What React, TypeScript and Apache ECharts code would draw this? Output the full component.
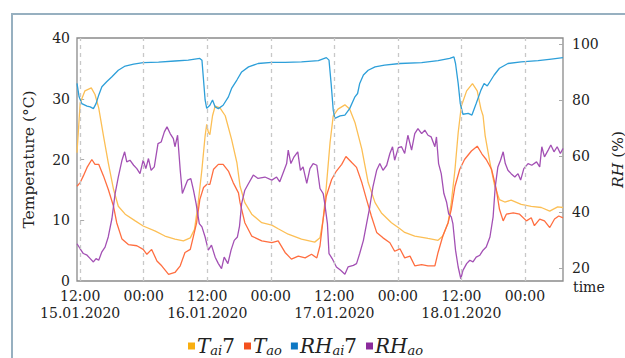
import React, { useEffect, useRef } from 'react';
import * as echarts from 'echarts';

// hours since 12:00 15.01.2020
const xTickValues = [0, 12, 24, 36, 48, 60, 72, 84];
const xTickLabels = ['12:00\n15.01.2020', '00:00', '12:00\n16.01.2020', '00:00', '12:00\n17.01.2020', '00:00', '12:00\n18.01.2020', '00:00'];
const rhTicks = [20, 40, 60, 80, 100];

const seriesNames = ['Tai7', 'Tao', 'RHai7', 'RHao'];
const legendLabels: Record<string, string> = {
  Tai7: '{i|T}{s|ai}{n|7}',
  Tao: '{i|T}{s|ao}',
  RHai7: '{i|RH}{s|ai}{n|7}',
  RHao: '{i|RH}{s|ao}',
};

const taiData: [number, number][] = [
  [-0.6, 21.1], [0, 29.3], [0.9, 31.3], [2.1, 31.8], [2.8, 30.7], [3.5, 28.5], [4.4, 23.9], [5.3, 19.5], [6.3, 15.1], [7.2, 12.3],
  [8.5, 11.0], [10.4, 9.9], [11.9, 9.05], [14.2, 8.2], [16, 7.4], [17.9, 6.9], [19.5, 6.6], [20.8, 7.1], [21.6, 8.5], [22.3, 12.9],
  [23, 18.4], [23.6, 23.9], [23.9, 25.8], [24.2, 24.5], [24.5, 24.1], [25, 27.2], [25.5, 28.8], [26.4, 28.5], [27.4, 27.2], [28.6, 23.3],
  [29.6, 19.5], [30.2, 15.6], [31.1, 12.9], [32.4, 11.0], [34.3, 9.6], [36.2, 9.2], [37.4, 8.6], [39.3, 7.7], [41.8, 6.9], [44.3, 6.4],
  [45.3, 7.1], [45.9, 10.2], [46.5, 15.6], [47.2, 22.8], [47.8, 27.2], [48.7, 28.3], [50, 29.0], [50.9, 28.3], [51.9, 26.1], [53.2, 21.7],
  [54.4, 16.2], [55.7, 12.9], [56.9, 11.2], [58.8, 9.6], [60.4, 8.6], [61.3, 8.0], [63.2, 7.4], [65.7, 7.0], [67.6, 6.7], [68.5, 7.4],
  [69.5, 9.6], [70.1, 12.9], [70.8, 18.4], [71.4, 24.4], [72, 28.8], [73, 31.3], [74.1, 32.5], [75, 31.3], [75.7, 28.3], [76.1, 27.2],
  [76.5, 23.9], [77.4, 19.5], [78.3, 15.6], [79.2, 13.4], [80.2, 13.0], [81.4, 13.3], [83.3, 12.6], [85.2, 12.3], [87.1, 12.1], [88.7, 11.5],
  [89.3, 11.8], [90.2, 12.2], [91.2, 12.1],
];

const taoData: [number, number][] = [
  [-0.6, 15.6], [0, 16.2], [0.6, 17.3], [1.3, 18.7], [2.2, 20.0], [2.8, 19.2], [3.5, 19.2], [4.4, 17.3], [5.3, 15.1], [6.3, 12.3],
  [6.9, 9.6], [7.9, 6.9], [9.1, 6.0], [10.7, 5.8], [11.9, 5.2], [12.6, 4.4], [13.5, 5.2], [14.5, 3.3], [15.4, 2.5], [16.7, 1.1],
  [17.9, 1.4], [18.9, 2.5], [19.8, 4.7], [20.8, 5.2], [21.4, 7.4], [22, 9.6], [22.6, 13.4], [23.3, 15.4], [23.9, 15.9], [24.5, 15.9],
  [25.2, 18.4], [26.1, 19.2], [27, 19.2], [28, 18.1], [28.9, 16.2], [29.9, 14.5], [30.2, 12.9], [31.1, 9.6], [32.4, 7.4], [34.3, 6.6],
  [36.2, 6.3], [37.4, 6.6], [38.7, 4.7], [39.9, 3.6], [41.2, 4.1], [42.5, 3.8], [43.7, 4.4], [44.7, 3.8], [45.3, 5.8], [45.9, 10.2],
  [46.5, 14.0], [47.5, 16.7], [48.4, 18.1], [49.4, 19.2], [50.2, 20.5], [51.3, 19.5], [52.2, 18.7], [53.2, 16.2], [54.1, 13.4], [55, 10.7],
  [56, 8.0], [57.2, 7.1], [58.5, 6.3], [59.4, 4.9], [60.4, 5.3], [61.3, 3.8], [62.3, 4.1], [63.2, 2.5], [64.5, 2.7], [65.7, 2.5],
  [67, 2.5], [67.6, 4.7], [68.5, 7.4], [69.5, 9.6], [70.1, 11.8], [70.8, 15.6], [71.7, 18.4], [72.6, 20.0], [73.9, 21.4], [75, 22.2],
  [75.9, 20.9], [76.7, 20.0], [77.7, 18.4], [78.6, 15.1], [79.2, 11.8], [79.9, 9.9], [80.5, 11.0], [81.8, 11.2], [83, 11.0], [84.3, 9.9],
  [85.2, 10.4], [85.8, 9.1], [86.8, 10.2], [87.7, 9.9], [88.7, 8.8], [89.6, 10.2], [90.4, 10.7], [91.2, 10.4],
];

const rhaiData: [number, number][] = [
  [-0.6, 85.9], [-0.2, 81.1], [0.3, 78.7], [1.3, 77.8], [1.9, 77.5], [2.5, 76.9], [3, 78.7], [3.5, 81.7], [4.1, 84.7], [5, 86.5],
  [6, 88.3], [7.2, 90.6], [8.5, 92.1], [10.1, 92.8], [11.9, 93.3], [14.8, 93.5], [17.9, 93.9], [20.4, 94.2], [22.6, 94.8], [23, 94.2],
  [23.3, 87.1], [23.6, 80], [23.9, 77], [24.5, 78.1], [25, 80], [25.5, 77.5], [26.1, 76.9], [27, 78.1], [28, 81.1], [28.6, 84.1],
  [29.6, 87.1], [30.5, 90.0], [31.8, 91.8], [33.6, 93.0], [36.2, 93.4], [38.7, 93.4], [41.8, 93.6], [45, 94], [46.5, 95.1], [47, 94.2],
  [47.4, 85.9], [47.8, 76.4], [48.1, 73.4], [49.1, 74.3], [50, 74.6], [50.9, 76.9], [51.9, 81.1], [52.4, 82.3], [52.8, 85.9], [53.5, 88.9],
  [54.4, 90.6], [55.7, 91.8], [57.5, 92.4], [60.4, 93], [64.5, 93.3], [67.6, 94], [69.8, 94.8], [70.6, 95.4], [70.9, 93], [71.4, 85.9],
  [71.8, 78.7], [72.3, 74.9], [73.3, 75.2], [74, 74.6], [74.8, 78.7], [75.7, 83.5], [76.3, 85.9], [76.9, 85], [77.4, 86.5], [78.2, 88.9],
  [79.2, 91.3], [80.8, 93], [83.3, 93.6], [86.5, 94], [89, 94.6], [91.2, 95.1],
];

const rhaoData: [number, number][] = [
  [-0.6, 28.7], [0, 26.9], [0.6, 25.2], [1.3, 24.6], [1.9, 23.4], [2.5, 22.2], [3, 23.4], [3.5, 22.8], [4.1, 25.8], [4.7, 27.5],
  [5.3, 31.1], [6, 37.7], [6.6, 46.6], [7.2, 52.5], [7.9, 58.5], [8.4, 61.5], [8.8, 57.9], [9.4, 58.5], [10.1, 56.7], [10.7, 55.5],
  [11.3, 53.7], [11.9, 58.5], [12.4, 55.5], [12.9, 59.1], [13.4, 54.9], [14, 56.1], [14.7, 64.4], [15.3, 65.0], [15.9, 68.6], [16.4, 70.4],
  [17, 68.0], [17.6, 66.2], [17.9, 63.3], [18.4, 67.4], [18.9, 54.9], [19.3, 46.6], [19.8, 49], [20.3, 51.4], [20.9, 51.9], [21.4, 47.8],
  [21.9, 43], [22.5, 35.9], [23, 34.7], [23.6, 31.1], [24.2, 26.4], [24.8, 28.2], [25.5, 23.9], [26.1, 21.6], [26.7, 19.8], [27.2, 23.9],
  [27.9, 21.6], [28.5, 26.4], [29.1, 29.9], [29.7, 31.1], [30.1, 35], [30.5, 43], [31.1, 47.8], [31.8, 50.2], [32.7, 53.2], [33.6, 52],
  [34.9, 52.5], [36.2, 51.4], [37.1, 52.5], [37.7, 50.8], [38.4, 54.3], [39, 57.3], [39.3, 62.1], [39.8, 57.3], [40.4, 59.7], [41.1, 61.5],
  [41.6, 54.9], [42.1, 56.1], [42.8, 50.2], [43.4, 55.5], [44, 57.3], [44.7, 56.7], [45.3, 48.4], [45.9, 46.6], [46.2, 43], [46.7, 35.9],
  [47, 25.2], [47.6, 23.4], [48.4, 20.4], [49.2, 19.2], [50, 17.8], [50.6, 20.4], [51.6, 21], [52.2, 21.6], [52.8, 25.2], [53.5, 29.9],
  [54.1, 35.9], [54.7, 41.8], [55.3, 49], [56, 54.9], [56.6, 57.3], [57.2, 54.9], [57.9, 56.7], [58.5, 60.9], [59, 63.3], [59.4, 58.5],
  [60.1, 63], [60.7, 63.3], [61.3, 60.9], [61.9, 67.4], [62.6, 62.1], [63.2, 68], [63.8, 69.8], [64.5, 68], [65.1, 69.2], [65.7, 67.4],
  [66.3, 66.8], [67, 63.3], [67.3, 66.8], [67.7, 57.3], [68.2, 53.7], [68.7, 46.6], [69.2, 43.6], [69.6, 39.4], [70.1, 38.3], [70.4, 35.9],
  [70.9, 26.4], [71.4, 20.4], [71.9, 16.2], [72.3, 19.2], [73, 21.6], [73.6, 22.8], [74.2, 22.2], [74.8, 23.9], [75.5, 24.6], [76.1, 26.4],
  [76.7, 27.5], [77.4, 31.1], [78, 38.3], [78.4, 49], [78.9, 56.1], [79.4, 58.5], [79.9, 61.5], [80.3, 57.3], [80.8, 54.9], [81.4, 53.7],
  [82.1, 52.5], [82.7, 53.7], [83.2, 51.4], [83.8, 55.5], [84.6, 57.3], [85.3, 56.7], [86.2, 57.9], [86.8, 56.1], [87.2, 63.3], [87.7, 59.7],
  [88.4, 62.1], [88.9, 63.9], [89.5, 61.5], [90.1, 63.3], [90.7, 60.9], [91.2, 62.7],
];

const FONT = 'DejaVu Serif';
const TEXT = '#222';

export default function App() {
  const ref = useRef<HTMLDivElement>(null);
  useEffect(() => {
    document.body.style.margin = '0';
    if (!ref.current) return;
    const chart = echarts.init(ref.current, null, { renderer: 'svg' });
    const lineSeries = (name: string, data: [number, number][], lineColor: string, iconColor: string, yAxisIndex: number) => ({
      name,
      type: 'line',
      data,
      yAxisIndex,
      showSymbol: false,
      symbol: 'none',
      z: 3,
      lineStyle: { color: lineColor, width: 1.3 },
      itemStyle: { color: iconColor },
    });
    chart.setOption({
      animation: false,
      textStyle: { fontFamily: FONT },
      graphic: [
        {
          type: 'rect',
          shape: { x: 12, y: 14, width: 700, height: 400 },
          style: { fill: 'none', stroke: '#97b0c0', lineWidth: 2 },
          silent: true,
        },
      ],
      grid: {
        left: 77, right: 62, top: 38, bottom: 77,
        outerBoundsMode: 'none',
        containLabel: false,
        show: true, borderColor: '#8a8a8a', borderWidth: 1.3, backgroundColor: 'transparent',
      },
      legend: {
        data: seriesNames,
        left: 183,
        top: 331,
        icon: 'rect',
        itemWidth: 7,
        itemHeight: 7,
        itemGap: 9,
        itemStyle: { borderWidth: 0 },
        formatter: (name: string) => legendLabels[name],
        textStyle: {
          fontFamily: FONT,
          color: TEXT,
          padding: [0, 0, 0, -3],
          rich: {
            i: { fontFamily: FONT, fontStyle: 'italic', fontSize: 20, color: TEXT },
            s: { fontFamily: FONT, fontStyle: 'italic', fontSize: 13, color: TEXT, padding: [9, 0, 0, 0] },
            n: { fontFamily: FONT, fontSize: 20, color: TEXT },
          },
        },
      },
      xAxis: {
        type: 'value',
        min: -0.6,
        max: 91.2,
        name: 'time',
        nameLocation: 'end',
        nameGap: 10,
        nameMoveOverlap: false,
        nameTextStyle: { fontFamily: FONT, fontSize: 14, color: TEXT, verticalAlign: 'top', lineHeight: 12 },
        axisLine: { show: false },
        axisTick: { show: false },
        splitLine: { show: false },
        axisLabel: {
          customValues: xTickValues,
          formatter: (v: number) => xTickLabels[xTickValues.indexOf(v)] ?? '',
          fontFamily: FONT,
          fontSize: 14,
          color: TEXT,
          lineHeight: 17,
          margin: 6,
        },
      },
      yAxis: [
        {
          type: 'value',
          min: 0,
          max: 40,
          interval: 10,
          position: 'left',
          name: 'Temperature (°C)',
          nameLocation: 'middle',
          nameGap: 40,
          nameTextStyle: { fontFamily: FONT, fontSize: 15.5, color: TEXT },
          axisLine: { show: false },
          axisTick: { show: true, inside: true, length: 4, lineStyle: { color: '#aaa' } },
          splitLine: { show: false },
          axisLabel: { fontFamily: FONT, fontSize: 14, color: TEXT, margin: 7 },
        },
        {
          type: 'value',
          min: 15.4,
          max: 102.1,
          position: 'right',
          name: '{i|RH} (%)',
          nameLocation: 'middle',
          nameRotate: 90,
          nameGap: 41,
          nameTextStyle: {
            fontFamily: FONT, fontSize: 15.5, color: TEXT,
            rich: { i: { fontFamily: FONT, fontStyle: 'italic', fontSize: 15.5, color: TEXT } },
          },
          axisLine: { show: false },
          axisTick: { show: true, inside: true, length: 4, customValues: rhTicks, lineStyle: { color: '#aaa' } },
          splitLine: { show: false },
          axisLabel: { customValues: rhTicks, fontFamily: FONT, fontSize: 14, color: TEXT, margin: 9 },
        },
      ],
      series: [
        {
          name: 'grid',
          type: 'line',
          data: [],
          z: 1,
          silent: true,
          markLine: {
            silent: true,
            symbol: ['none', 'none'],
            label: { show: false },
            lineStyle: { type: [4, 4], color: '#c8c8c8', width: 1.3 },
            data: xTickValues.map((v) => ({ xAxis: v })),
          },
        },
        lineSeries('Tai7', taiData, '#fcbf55', '#f8ae10', 0),
        lineSeries('Tao', taoData, '#ff6e40', '#f4511e', 0),
        lineSeries('RHai7', rhaiData, '#2d9fd9', '#0d78c4', 1),
        lineSeries('RHao', rhaoData, '#a350b4', '#8c2b9c', 1),
      ],
    });
    return () => chart.dispose();
  }, []);
  return <div ref={ref} style={{ width: 625, height: 358 }} />;
}
